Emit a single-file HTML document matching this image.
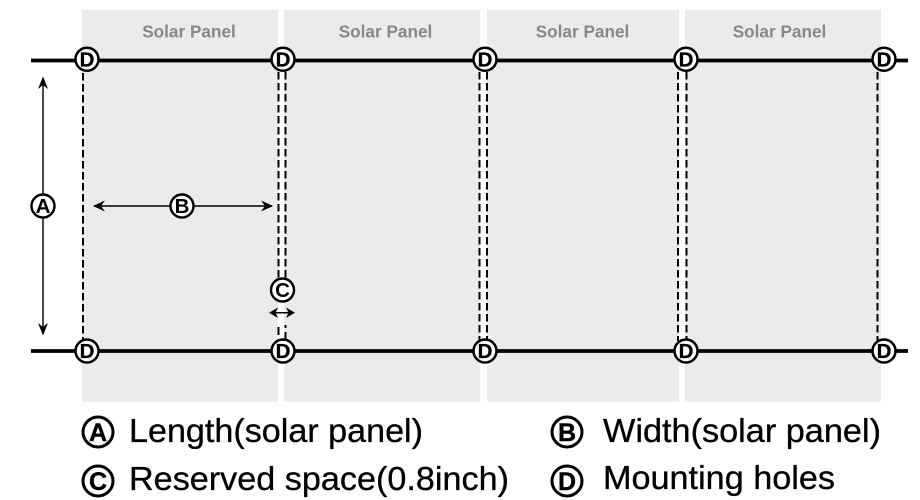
<!DOCTYPE html>
<html>
<head>
<meta charset="utf-8">
<style>
html,body{margin:0;padding:0;background:#fff;width:920px;height:500px;overflow:hidden}
svg{display:block;font-family:"Liberation Sans",Arial,sans-serif;filter:blur(0.35px)}
</style>
</head>
<body>
<svg width="920" height="500" viewBox="0 0 920 500" xmlns="http://www.w3.org/2000/svg">
<defs>
<g id="d"><circle r="11.500" fill="#fff" stroke="#000" stroke-width="2.500"/><text y="7.200" text-anchor="middle" font-size="20.500" font-weight="bold" fill="#000" stroke="#000" stroke-width="0.300">D</text></g>
</defs>
<rect width="920" height="500" fill="#fff"/>
<g fill="#ebebeb">
<rect x="82" y="10" width="196" height="391.500"/>
<rect x="284" y="10" width="196" height="391.500"/>
<rect x="487" y="10" width="192" height="391.500"/>
<rect x="685" y="10" width="196" height="391.500"/>
</g>
<g font-size="17.200" font-weight="bold" fill="#888" text-anchor="middle">
<text x="189" y="37.500">Solar Panel</text>
<text x="385.500" y="37.500">Solar Panel</text>
<text x="582.500" y="37.500">Solar Panel</text>
<text x="779.500" y="37.500">Solar Panel</text>
</g>
<g stroke="#000" stroke-width="2" stroke-dasharray="7.500 3.500" fill="none">
<path d="M83 73V341"/>
<path d="M278.500 72V282M285.500 72V282"/>
<path d="M479.500 72V341M487 72V341"/>
<path d="M678 72V341M686.500 72V341"/>
<path d="M877.500 72V341"/>
</g>
<g stroke="#000" stroke-width="2" fill="none">
<path d="M278.500 327V335M285.500 332V341M285.500 325V328"/>
</g>
<g stroke="#000" stroke-width="3.800">
<path d="M31 60.500H908"/>
<path d="M31 351H908"/>
</g>
<g stroke="#000" stroke-width="1.400" fill="none">
<path d="M43 78V334"/>
<path d="M94 206H272"/>
</g>
<path d="M271 312.700H293" stroke="#000" stroke-width="1.500" fill="none"/>
<g fill="#000">
<path d="M43 76.500L38 89L43 85L48 89Z"/>
<path d="M43 335.500L38 323L43 327L48 323Z"/>
<path d="M93 206L105 200.500L101 206L105 211.500Z"/>
<path d="M273 206L261 200.500L265 206L261 211.500Z"/>
<path d="M269 312.700L278 307.500L275.500 312.700L278 318Z"/>
<path d="M295 312.700L286 307.500L288.500 312.700L286 318Z"/>
</g>
<use href="#d" x="87" y="59.200"/><use href="#d" x="283" y="59.200"/><use href="#d" x="485" y="59.200"/><use href="#d" x="686" y="59.200"/><use href="#d" x="884" y="59.200"/>
<use href="#d" x="87" y="351"/><use href="#d" x="283" y="351"/><use href="#d" x="485" y="351"/><use href="#d" x="686" y="351"/><use href="#d" x="884" y="351"/>
<g fill="#fff" stroke="#000" stroke-width="2.400">
<circle cx="43" cy="206" r="11.500"/>
<circle cx="182" cy="206" r="11.500"/>
<circle cx="282.500" cy="290" r="11.500"/>
</g>
<g font-size="20.500" font-weight="bold" fill="#000" text-anchor="middle">
<text x="43" y="213.200">A</text>
<text x="182" y="213.200">B</text>
<text x="282.500" y="297.200">C</text>
</g>
<g fill="#fff" stroke="#000" stroke-width="3">
<circle cx="98" cy="432" r="15"/>
<circle cx="98" cy="481" r="15"/>
<circle cx="567" cy="432" r="15"/>
<circle cx="567" cy="481" r="15"/>
</g>
<g font-size="25" font-weight="bold" fill="#000" text-anchor="middle" stroke="#000" stroke-width="0.400">
<text x="98" y="441">A</text>
<text x="98" y="490">C</text>
<text x="567" y="441">B</text>
<text x="567" y="490">D</text>
</g>
<g font-size="33" fill="#000" stroke="#000" stroke-width="0.300">
<text x="129" y="442" textLength="294" lengthAdjust="spacingAndGlyphs">Length(solar panel)</text>
<text x="129" y="490" textLength="380" lengthAdjust="spacingAndGlyphs">Reserved space(0.8inch)</text>
<text x="603" y="442" textLength="278" lengthAdjust="spacingAndGlyphs">Width(solar panel)</text>
<text x="603" y="489" textLength="232" lengthAdjust="spacingAndGlyphs">Mounting holes</text>
</g>
</svg>
</body>
</html>
